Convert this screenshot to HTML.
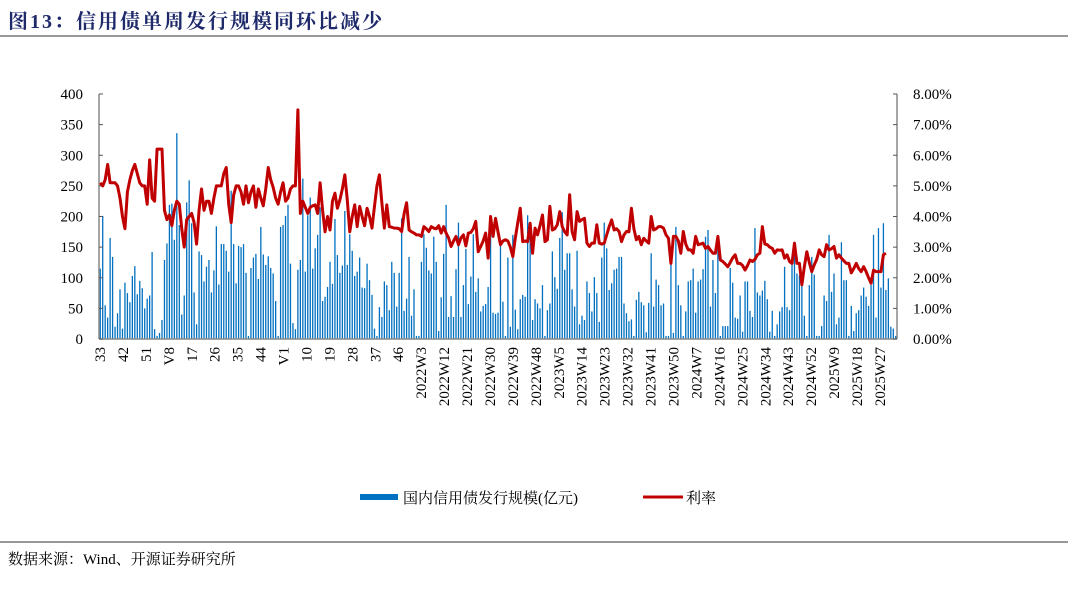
<!DOCTYPE html>
<html><head><meta charset="utf-8">
<style>
body{margin:0;background:#fff;width:1080px;height:585px;overflow:hidden;font-family:"Liberation Serif","Noto Serif CJK SC",serif;}
svg text{font-family:"Liberation Serif","Noto Serif CJK SC",serif;}
</style></head>
<body>
<svg id="chart" width="1080" height="585" xmlns="http://www.w3.org/2000/svg">
<text x="8" y="28" font-size="20" font-weight="bold" letter-spacing="2" fill="#1f2a6b">图13：信用债单周发行规模同环比减少</text>
<line x1="0" y1="36" x2="1068" y2="36" stroke="#777" stroke-width="1.5"/>
<line x1="0" y1="542" x2="1068" y2="542" stroke="#777" stroke-width="1.5"/>
<text x="8" y="564" font-size="15" fill="#000">数据来源：Wind、开源证券研究所</text>
<g id="bars"></g>
<g id="axes"></g>
<g id="xlabels"></g>
<path id="rateLine" fill="none" stroke="#C00000" stroke-width="3" stroke-linejoin="round"/>
<g>
<rect x="360" y="494" width="38" height="6" fill="#0070C0"/>
<text x="403" y="503" font-size="15">国内信用债发行规模(亿元)</text>
<line x1="643" y1="497" x2="683" y2="497" stroke="#C00000" stroke-width="3"/>
<text x="686" y="503" font-size="15">利率</text>
</g>
</svg>
<script>
const issuance = [115,201,55,35,165,134,20,42,81,17,92,75,60,103,119,73,95,83,50,66,71,142,16,5,10,31,129,156,219,221,162,336,186,40,71,223,259,189,76,24,143,137,94,118,129,76,112,184,89,155,155,144,110,242,155,91,152,150,155,108,5,116,133,139,98,183,138,121,135,116,107,62,5,183,186,201,219,123,26,16,113,129,262,110,202,231,115,148,170,215,62,69,85,126,90,196,137,108,120,209,121,171,144,103,110,133,84,83,123,96,72,17,5,52,36,94,88,47,126,108,53,108,197,46,66,134,38,81,5,5,126,171,149,112,107,167,126,13,68,139,219,36,70,36,114,190,36,88,147,57,102,171,77,99,45,54,57,85,183,43,41,43,153,61,5,133,20,170,48,16,65,72,69,202,189,31,65,58,50,88,5,47,58,143,101,82,165,207,113,140,140,81,53,144,24,38,31,94,75,45,101,75,28,133,190,148,80,91,113,115,134,134,58,42,29,32,5,64,77,60,55,11,59,140,53,97,88,55,58,5,5,140,10,183,88,55,5,45,94,96,115,43,94,97,114,167,178,53,129,75,163,5,21,21,21,116,92,35,33,71,12,94,94,46,36,181,76,71,79,95,65,12,46,5,24,45,52,118,52,47,123,137,107,104,99,38,5,88,134,105,5,5,21,71,62,170,77,107,24,35,158,96,96,5,54,13,42,47,71,84,69,54,88,170,35,181,84,189,80,99,20,17,5];
const rate = [5.1,5.0,5.2,5.7,5.1,5.1,5.1,5.0,4.6,4.0,3.6,4.8,5.2,5.5,5.7,5.4,5.1,5.0,5.0,4.4,5.85,4.6,4.5,6.2,6.2,6.2,4.2,3.9,4.05,3.7,4.2,4.5,4.4,3.6,3.0,3.9,4.0,4.1,3.8,3.1,4.2,4.9,4.2,4.5,4.5,4.1,4.6,5.0,5.0,5.0,5.4,5.6,4.4,3.8,4.7,5.0,5.0,4.8,4.4,5.0,4.45,4.8,5.0,4.3,4.9,4.6,4.35,4.9,5.6,5.2,4.95,4.6,4.4,4.8,5.1,4.5,4.6,4.9,5.0,5.0,7.48,4.1,4.5,4.3,4.1,4.3,4.35,4.38,4.1,5.1,4.2,3.5,4.0,3.56,4.5,4.76,4.27,4.54,4.9,5.36,4.54,3.5,4.0,4.38,3.67,4.33,4.0,3.7,4.27,4.0,3.62,4.33,5.0,5.36,4.44,3.62,4.38,3.67,3.65,3.62,3.62,3.6,3.51,4.1,4.45,3.56,3.5,3.46,3.4,3.4,3.35,3.67,3.6,3.51,3.67,3.62,3.6,3.7,3.46,3.67,3.46,3.3,3.02,3.2,3.35,3.08,3.3,3.4,3.04,3.46,3.48,3.6,3.84,2.85,3.02,3.2,3.46,2.64,4.0,3.35,3.94,3.5,3.08,3.2,3.24,3.2,3.0,2.69,3.29,3.8,4.27,3.18,3.2,3.18,3.78,2.8,3.62,3.4,3.7,4.05,3.18,3.24,4.33,3.56,3.6,3.73,4.16,3.67,3.5,3.4,4.71,3.5,3.24,4.16,3.84,3.9,3.94,3.13,3.02,3.13,3.13,3.73,3.13,3.1,3.13,3.4,3.67,3.89,3.56,3.6,3.51,3.18,3.4,3.51,3.5,4.27,3.6,3.24,3.35,3.08,3.29,3.2,3.13,4.0,3.56,3.6,3.67,3.67,3.62,3.4,3.29,2.47,3.35,3.35,3.2,2.8,3.51,3.1,2.91,2.91,2.8,3.35,3.08,3.1,3.13,2.96,3.02,2.9,2.8,2.8,3.35,2.58,2.53,2.45,2.36,2.5,2.65,2.75,2.47,2.47,2.4,2.25,2.4,2.58,2.53,2.6,2.75,2.8,3.67,3.1,3.08,3.0,2.96,2.8,2.91,2.9,2.91,2.64,2.75,2.53,2.47,3.13,2.47,2.47,1.77,2.36,2.85,2.5,2.2,2.42,2.6,2.91,2.75,2.69,3.08,2.91,2.95,3.02,2.64,2.75,2.64,2.55,2.47,2.47,2.16,2.3,2.47,2.3,2.2,2.36,2.2,2.0,1.82,2.25,2.2,2.2,2.2,2.75,2.8];
const leftTicks = [0,50,100,150,200,250,300,350,400];
const rightTicks = ["0.00%","1.00%","2.00%","3.00%","4.00%","5.00%","6.00%","7.00%","8.00%"];
const xLabels = ["33","42","51","V8","17","26","35","44","V1","10","19","28","37","46","2022W3","2022W12","2022W21","2022W30","2022W39","2022W48","2023W5","2023W14","2023W23","2023W32","2023W41","2023W50","2024W7","2024W16","2024W25","2024W34","2024W43","2024W52","2025W9","2025W18","2025W27"];
const labelStep = 9;

const NS="http://www.w3.org/2000/svg";
const X0=99,X1=897,Y0=339,Y1=94;
const n=issuance.length;
const band=(X1-X0)/n;
const labelPitch=22.94;
const xc=i=>X0+(i+0.5)*band;
const yL=v=>Y0-(v/400)*(Y0-Y1);
const yR=v=>Y0-(v/8)*(Y0-Y1);
function mk(tag,attrs,parent){const e=document.createElementNS(NS,tag);for(const k in attrs)e.setAttribute(k,attrs[k]);parent.appendChild(e);return e;}

const bars=document.getElementById('bars');
issuance.forEach((v,i)=>{
  const r=mk('rect',{x:xc(i)-0.65,y:yL(v),width:1.3,height:Y0-yL(v),fill:'#0070C0'},bars);
  
  
});

const ax=document.getElementById('axes');
let a=mk('line',{x1:X0,y1:Y1,x2:X0,y2:Y0,stroke:'#888','stroke-width':1.5},ax);


a=mk('line',{x1:X1,y1:Y1,x2:X1,y2:Y0,stroke:'#888','stroke-width':1.5},ax);


a=mk('line',{x1:X0,y1:Y0,x2:X1,y2:Y0,stroke:'#888','stroke-width':1.5},ax);


leftTicks.forEach(v=>{
  const y=yL(v);
  mk('line',{x1:X0,y1:y,x2:X0+4,y2:y,stroke:'#555'},ax);
  const t=mk('text',{x:83,y:y+5,'text-anchor':'end','font-size':15},ax);
  t.textContent=v;
  
  
});
rightTicks.forEach((s,k)=>{
  const y=yR(k);
  mk('line',{x1:X1-4,y1:y,x2:X1,y2:y,stroke:'#555'},ax);
  const t=mk('text',{x:913,y:y+5,'font-size':15},ax);
  t.textContent=s;
  
  
});
const xl=document.getElementById('xlabels');
xLabels.forEach((s,k)=>{
  const x=100+k*labelPitch+5;
  const t=mk('text',{x:0,y:0,'text-anchor':'end','font-size':15,transform:`translate(${x},347) rotate(-90)`},xl);
  t.textContent=s;
  
  
});
let d='';
rate.forEach((v,i)=>{d+=(i?'L':'M')+xc(i).toFixed(2)+','+yR(v).toFixed(2);});
document.getElementById('rateLine').setAttribute('d',d);
</script>
</body></html>
